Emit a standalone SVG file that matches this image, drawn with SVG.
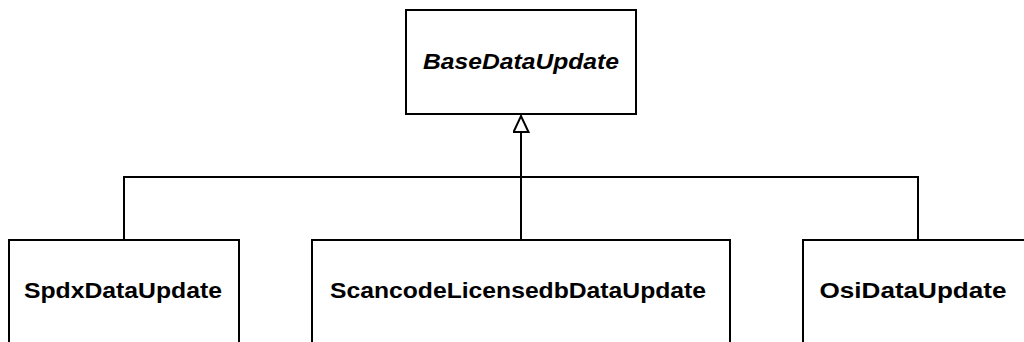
<svg xmlns="http://www.w3.org/2000/svg" width="1024" height="342" viewBox="0 0 1024 342">
  <style>
    .box { fill: #ffffff; stroke: #000000; stroke-width: 2; }
    .edge { fill: none; stroke: #000000; stroke-width: 2; }
    .label { font-family: "Liberation Sans", Arial, sans-serif; font-size: 22.5px; font-weight: bold; fill: #000000; text-anchor: middle; }
    .abstract { font-style: italic; }
  </style>
  <defs>
    <!-- hollow triangle for generalization -->
    <marker id="inherit" markerUnits="userSpaceOnUse" markerWidth="20" markerHeight="20" refX="17.5" refY="8.5" orient="auto">
      <path d="M1,1 L17,8.5 L1,16 Z" fill="#ffffff" stroke="#000000" stroke-width="2"/>
    </marker>
  </defs>
  <rect width="1024" height="342" fill="#ffffff"/>

  <g id="connectors">
    <path class="edge" d="M521,240 L521,115.5" marker-end="url(#inherit)"/>
    <path class="edge" d="M124,240 L124,177 L918,177 L918,240"/>
  </g>

  <g id="BaseDataUpdate">
    <rect class="box" x="406" y="10" width="230" height="104"/>
    <text class="label abstract" x="521" y="68.5" textLength="196" lengthAdjust="spacingAndGlyphs">BaseDataUpdate</text>
  </g>

  <g id="SpdxDataUpdate">
    <rect class="box" x="9" y="240" width="230" height="120"/>
    <text class="label" x="123" y="298" textLength="198" lengthAdjust="spacingAndGlyphs">SpdxDataUpdate</text>
  </g>

  <g id="ScancodeLicensedbDataUpdate">
    <rect class="box" x="312" y="240" width="418" height="120"/>
    <text class="label" x="518" y="298" textLength="376" lengthAdjust="spacingAndGlyphs">ScancodeLicensedbDataUpdate</text>
  </g>

  <g id="OsiDataUpdate">
    <rect class="box" x="803" y="240" width="240" height="120"/>
    <text class="label" x="913" y="298" textLength="187" lengthAdjust="spacingAndGlyphs">OsiDataUpdate</text>
  </g>
</svg>
